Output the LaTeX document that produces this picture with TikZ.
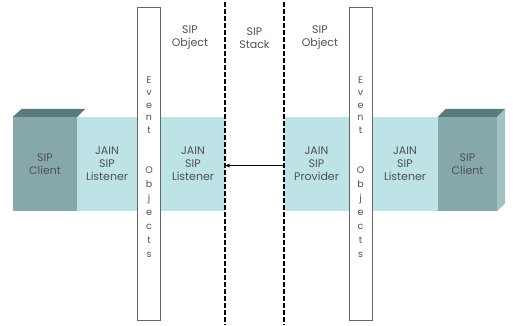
\documentclass[tikz,border=0pt]{standalone}
\usepackage{fontspec}
\setmainfont{Poppins}
\usetikzlibrary{positioning,arrows.meta}

\definecolor{bandblue}{HTML}{BDE3E7}
\definecolor{clientfront}{HTML}{86A8AA}
\definecolor{clienttop}{HTML}{5A7B7E}
\definecolor{clientside}{HTML}{A3C2C4}
\definecolor{labelgray}{HTML}{505050}

\begin{document}
\begin{tikzpicture}[x=1pt, y=-1pt,
  lbl/.style={align=center, font=\fontsize{11}{13}\selectfont, text=labelgray},
  band/.style={lbl, fill=bandblue, minimum height=94pt, inner sep=0pt},
  client/.style={lbl, fill=clientfront, minimum height=94pt, inner sep=0pt},
  evt/.style={draw=gray!80!black, fill=white, line width=0.9pt,
              minimum width=23pt, minimum height=313pt, inner sep=0pt},
  letters/.style={align=center, text=labelgray},
  bound/.style={dash pattern=on 4.5pt off 2.5pt, line width=1.7pt},
  arr/.style={{Stealth[length=5pt, width=4pt]}-, semithick}]
\useasboundingbox (0,0) rectangle (513,325);

% listener / provider bands
\node[band, minimum width=60pt] (lstnA) at (107,164) {JAIN\\SIP\\Listener};
\node[band, minimum width=64pt] (lstnB) at (193,164) {JAIN\\SIP\\Listener};
\node[band, minimum width=65pt] (prov) at (316.5,164) {JAIN\\SIP\\Provider};
\node[band, minimum width=66pt] (lstnC) at (405,164) {JAIN\\SIP\\Listener};

% clients as boxes
\node[client, minimum width=64pt] (clientL) at (45,164) {SIP\\Client};
\fill[clienttop] (clientL.north west) -- ++(9,-8)
  -- ([shift={(8,-8)}]clientL.north east) -- (clientL.north east) -- cycle;
\node[client, minimum width=59pt] (clientR) at (467.5,164) {SIP\\Client};
\fill[clienttop] (clientR.north west) -- ++(8,-8)
  -- ([shift={(8,-8)}]clientR.north east) -- (clientR.north east) -- cycle;
\fill[clientside] (clientR.north east) -- ++(8,-8)
  -- ([shift={(8,-8)}]clientR.south east) -- (clientR.south east) -- cycle;

% event object columns
\node[evt] (evtL) at (149,163.5) {};
\node[evt] (evtR) at (360.5,163.5) {};
\node[letters, font=\fontsize{9.5}{12.5}\selectfont] at (evtL |- 0,105) {E\\v\\e\\n\\t};
\node[letters, font=\fontsize{9.5}{14}\selectfont] at (evtL |- 0,212) {O\\b\\j\\e\\c\\t\\s};
\node[letters, font=\fontsize{9.5}{12.5}\selectfont] at (evtR |- 0,105) {E\\v\\e\\n\\t};
\node[letters, font=\fontsize{9.5}{14}\selectfont] at (evtR |- 0,212) {O\\b\\j\\e\\c\\t\\s};

% stack boundaries
\draw[bound] (lstnB.east |- 0,2) -- (lstnB.east |- 0,325);
\draw[bound] (prov.west |- 0,2) -- (prov.west |- 0,325);

% headings
\node[lbl] (objL) at (190,38) {SIP\\Object};
\node[lbl] (stack) at (254.5,38) {SIP\\Stack};
\node[lbl] (objR) at (320,38) {SIP\\Object};

\draw[arr] ([yshift=-1.5pt]lstnB.east) -- ([yshift=-1.5pt]prov.west);
\end{tikzpicture}
\end{document}
